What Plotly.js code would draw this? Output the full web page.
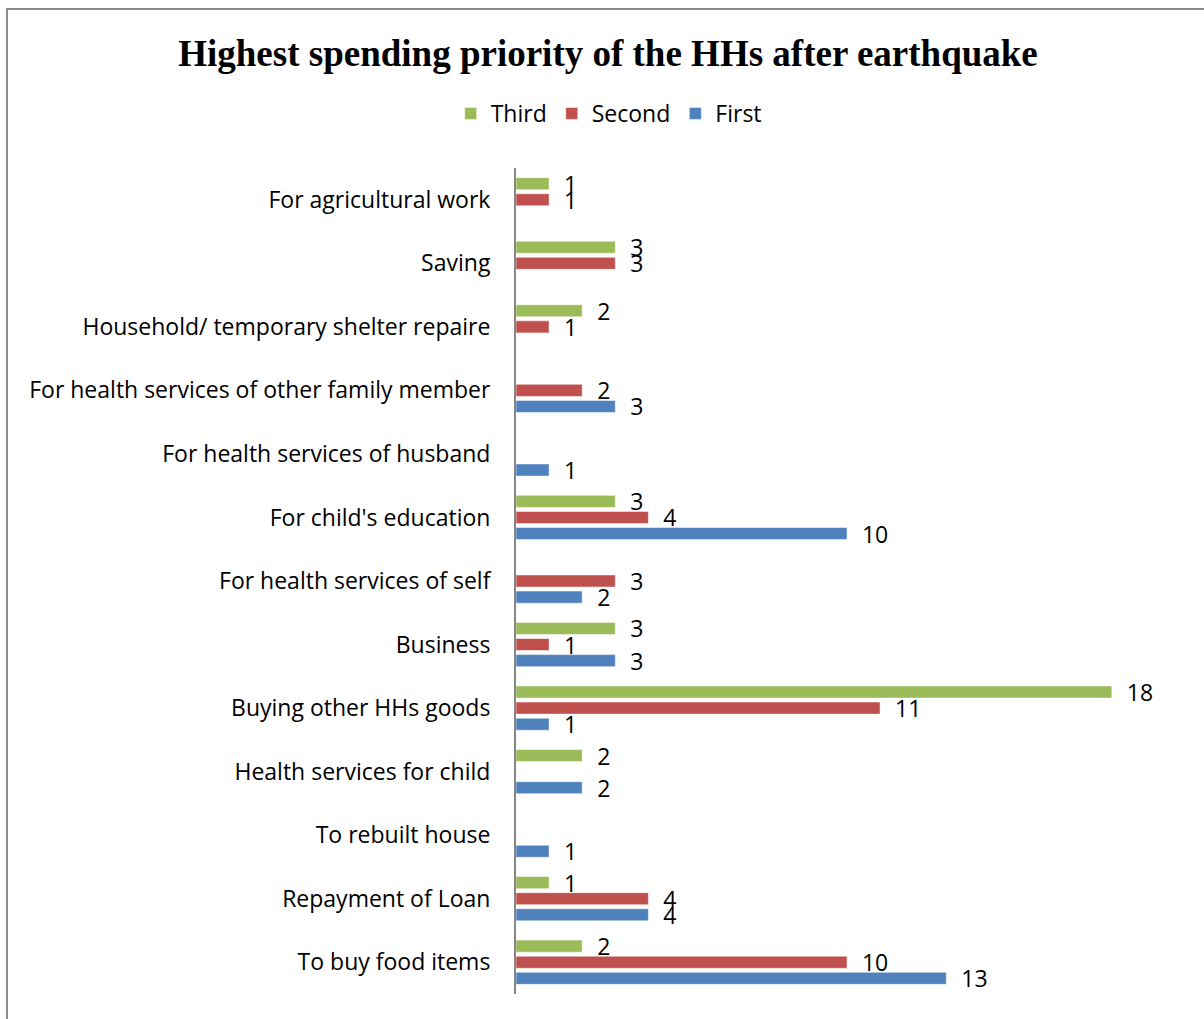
<!DOCTYPE html>
<html>
<head>
<meta charset="utf-8">
<script src="https://cdn.plot.ly/plotly-3.0.1.min.js"></script>
<style>
html,body{margin:0;padding:0;background:#fff;overflow:hidden;}
#chart{width:1204px;height:1019px;position:relative;}
#frame{position:absolute;left:6px;top:8px;width:1300px;height:1100px;border:2px solid #8c8c8c;pointer-events:none;}
</style>
</head>
<body>
<div id="chart"></div>
<div id="frame"></div>
<script>
const categories = [
  "To buy food items",
  "Repayment of Loan",
  "To rebuilt house",
  "Health services for child",
  "Buying other HHs goods",
  "Business",
  "For health services of self",
  "For child's education",
  "For health services of husband",
  "For health services of other family member",
  "Household/ temporary shelter repaire",
  "Saving",
  "For agricultural work"
];
const first  = [13, 4, 1, 2, 1, 3, 2, 10, 1, 3, null, null, null];
const second = [10, 4, null, null, 11, 1, 3, 4, null, 2, 1, 3, 1];
const third  = [2, 1, null, 2, 18, 3, null, 3, null, null, 2, 3, 1];

const labelFont = {family: "'Open Sans', 'Noto Sans', sans-serif", size: 23, color: "#000"};

function mk(name, vals, color) {
  return {
    type: "bar", orientation: "h", name: name,
    y: categories, x: vals,
    marker: {color: color, line: {color: "rgba(255,255,255,0.5)", width: 1}},
    text: vals.map(v => v == null ? "" : "\u00a0\u00a0" + v),
    textposition: "outside",
    constraintext: "none",
    textfont: labelFont,
    cliponaxis: false,
    hoverinfo: "x+name"
  };
}

const data = [
  mk("First", first, "#4f81bd"),
  mk("Second", second, "#c0504d"),
  mk("Third", third, "#9bbb59")
];

const layout = {
  width: 1204, height: 1019,
  margin: {l: 516, r: 26, t: 168, b: 25},
  paper_bgcolor: "#fff", plot_bgcolor: "#fff",
  barmode: "group", bargap: 0.24, bargroupgap: 0.25,
  title: {
    text: "<b>Highest spending priority of the HHs after earthquake</b>",
    font: {family: "'Liberation Serif', 'Times New Roman', serif", size: 37, color: "#000"},
    x: 0.505, xanchor: "center", y: 0.948, yanchor: "middle"
  },
  showlegend: true,
  legend: {
    orientation: "h", traceorder: "reversed",
    x: 0.14, xanchor: "center", y: 1.066, yanchor: "middle",
    font: labelFont, itemwidth: 30
  },
  xaxis: {
    range: [0, 20], visible: false, showgrid: false, zeroline: false, fixedrange: true
  },
  yaxis: {
    type: "category", categoryorder: "array", categoryarray: categories,
    range: [-0.5, 12.5],
    showline: true, linecolor: "#868686", linewidth: 2,
    showgrid: false, zeroline: false, ticks: "",
    ticklabelstandoff: 19,
    tickfont: labelFont, fixedrange: true
  }
};

Plotly.newPlot("chart", data, layout, {displayModeBar: false, staticPlot: true});
</script>
</body>
</html>
